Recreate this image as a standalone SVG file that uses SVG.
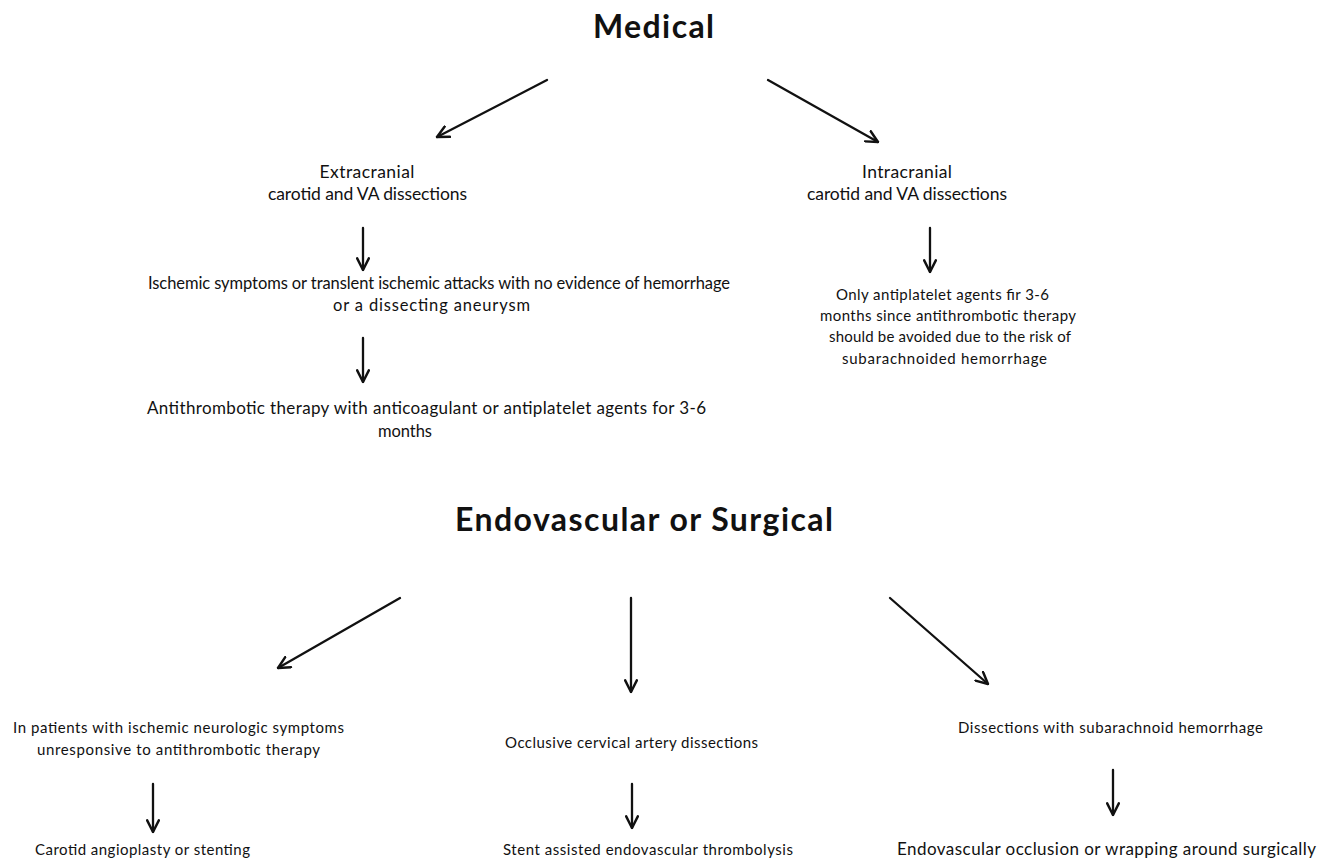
<svg xmlns="http://www.w3.org/2000/svg" width="1332" height="860" viewBox="0 0 1332 860">
<style>
text{font-family:Lato,"Open Sans","Liberation Sans",sans-serif;fill:#111;text-anchor:middle}
.h{font-size:32px;font-weight:bold}
.t{font-size:15px}
.m{font-size:17.5px}
.n{font-size:16.5px}
.c{stroke:#111;stroke-width:2.3;fill:none;stroke-linecap:round;marker-end:url(#ah)}
</style>
<defs>
<marker id="ah" viewBox="0 0 12 12" refX="11" refY="6" markerWidth="14" markerHeight="14" markerUnits="userSpaceOnUse" orient="auto">
<path d="M1,1 L11,6 L1,11" fill="none" stroke="#111" stroke-width="2.1" stroke-linecap="round" stroke-linejoin="round"/>
</marker>
</defs>
<rect width="1332" height="860" fill="#fff"/>
<g id="medical"><text class="h" x="653.5" y="38" textLength="121">Medical</text></g>
<g id="extracranial"><text class="m" x="367" y="178" textLength="95">Extracranial</text><text class="m" x="367.5" y="200" textLength="199">carotid and VA dissections</text></g>
<g id="intracranial"><text class="m" x="907" y="178" textLength="90">Intracranial</text><text class="m" x="907" y="200" textLength="200">carotid and VA dissections</text></g>
<g id="ischemic"><text class="n" x="439" y="289" textLength="582">Ischemic symptoms or translent ischemic attacks with no evidence of hemorrhage</text><text class="n" x="431.5" y="311" textLength="197">or a dissecting aneurysm</text></g>
<g id="antithrombotic"><text class="n" x="426.5" y="414" style="font-size:17px" textLength="559">Antithrombotic therapy with anticoagulant or antiplatelet agents for 3-6</text><text class="n" x="405" y="437" textLength="54">months</text></g>
<g id="antiplatelet"><text class="t" x="942.5" y="300" textLength="213">Only antiplatelet agents fir 3-6</text><text class="t" x="948" y="321" textLength="256">months since antithrombotic therapy</text><text class="t" x="950" y="342" textLength="242">should be avoided due to the risk of</text><text class="t" x="944.5" y="364" textLength="205">subarachnoided hemorrhage</text></g>
<g id="endovascular"><text class="h" x="644" y="531" textLength="378">Endovascular or Surgical</text></g>
<g id="patients"><text class="t" x="178.5" y="733" textLength="331">In patients with ischemic neurologic symptoms</text><text class="t" x="178.5" y="755" textLength="283">unresponsive to antithrombotic therapy</text></g>
<g id="carotid"><text class="t" x="142.5" y="855" textLength="215">Carotid angioplasty or stenting</text></g>
<g id="occlusive"><text class="t" x="631.5" y="748" textLength="253">Occlusive cervical artery dissections</text></g>
<g id="stent"><text class="t" x="648" y="855" textLength="290">Stent assisted endovascular thrombolysis</text></g>
<g id="sah"><text class="t" x="1110.5" y="733" textLength="305">Dissections with subarachnoid hemorrhage</text></g>
<g id="occlusion"><text class="t" x="1106.5" y="855" style="font-size:17px" textLength="419">Endovascular occlusion or wrapping around surgically</text></g>
<g id="connectors">
<line class="c" x1="547" y1="80" x2="437" y2="137"/>
<line class="c" x1="768" y1="80" x2="878" y2="142"/>
<line class="c" x1="363" y1="228" x2="363" y2="270"/>
<line class="c" x1="363" y1="338" x2="363" y2="382"/>
<line class="c" x1="930" y1="228" x2="930" y2="272"/>
<line class="c" x1="400" y1="598" x2="278" y2="668"/>
<line class="c" x1="631" y1="598" x2="631" y2="692"/>
<line class="c" x1="890" y1="598" x2="988" y2="684"/>
<line class="c" x1="153" y1="784" x2="153" y2="832"/>
<line class="c" x1="632" y1="784" x2="632" y2="828"/>
<line class="c" x1="1113" y1="770" x2="1113" y2="815"/>
</g>
</svg>
